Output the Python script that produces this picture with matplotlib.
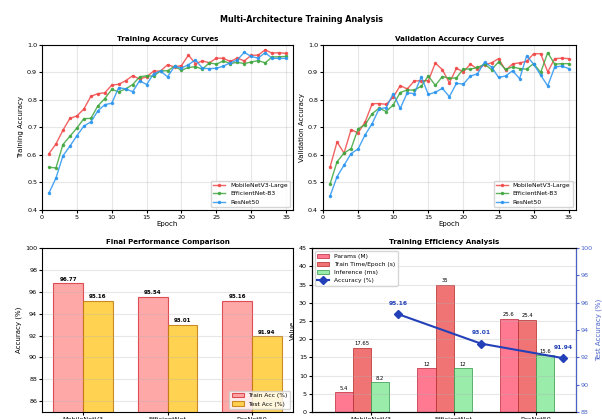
import numpy as np
import matplotlib
matplotlib.use("Agg")
import matplotlib.pyplot as plt

# Data
epochs = np.arange(1, 36)
models = ["MobileNetV3-Large", "EfficientNet-B3", "ResNet50"]
short_names = ["MobileNetV3", "EfficientNet", "ResNet50"]

train_mobilenet = [0.605, 0.640, 0.690, 0.733, 0.742, 0.767, 0.813, 0.823, 0.826, 0.854,
                   0.857, 0.870, 0.888, 0.876, 0.884, 0.905, 0.905, 0.928, 0.920, 0.925,
                   0.963, 0.932, 0.942, 0.935, 0.952, 0.951, 0.940, 0.952, 0.942, 0.962,
                   0.963, 0.982, 0.970, 0.972, 0.969]
train_efficientnet = [0.555, 0.553, 0.638, 0.668, 0.698, 0.732, 0.733, 0.778, 0.805, 0.838,
                      0.830, 0.840, 0.856, 0.884, 0.888, 0.886, 0.906, 0.906, 0.922, 0.908,
                      0.918, 0.921, 0.912, 0.935, 0.930, 0.942, 0.932, 0.937, 0.932, 0.938,
                      0.943, 0.935, 0.956, 0.957, 0.958]
train_resnet = [0.462, 0.516, 0.597, 0.632, 0.670, 0.705, 0.720, 0.760, 0.783, 0.788,
                0.845, 0.840, 0.830, 0.870, 0.856, 0.895, 0.905, 0.884, 0.922, 0.916,
                0.928, 0.946, 0.915, 0.914, 0.915, 0.923, 0.935, 0.945, 0.973, 0.958,
                0.952, 0.972, 0.951, 0.951, 0.951]

val_mobilenet = [0.555, 0.647, 0.607, 0.692, 0.680, 0.720, 0.786, 0.787, 0.784, 0.810,
                 0.852, 0.840, 0.869, 0.870, 0.870, 0.934, 0.910, 0.862, 0.915, 0.902,
                 0.930, 0.912, 0.928, 0.935, 0.950, 0.908, 0.931, 0.935, 0.940, 0.968,
                 0.968, 0.902, 0.950, 0.952, 0.950]
val_efficientnet = [0.494, 0.575, 0.607, 0.623, 0.695, 0.710, 0.750, 0.770, 0.758, 0.782,
                    0.827, 0.836, 0.836, 0.850, 0.887, 0.853, 0.885, 0.879, 0.880, 0.913,
                    0.912, 0.918, 0.930, 0.910, 0.938, 0.911, 0.920, 0.914, 0.912, 0.932,
                    0.900, 0.972, 0.930, 0.932, 0.932]
val_resnet = [0.450, 0.521, 0.563, 0.605, 0.622, 0.673, 0.714, 0.768, 0.772, 0.823,
              0.769, 0.826, 0.823, 0.884, 0.820, 0.828, 0.842, 0.812, 0.860, 0.858,
              0.887, 0.895, 0.937, 0.920, 0.882, 0.887, 0.906, 0.877, 0.960, 0.930,
              0.890, 0.851, 0.920, 0.923, 0.914]

train_acc_pct = [96.77, 95.54, 95.16]
test_acc_pct = [95.16, 93.01, 91.94]

params_m = [5.4, 12, 25.6]
train_time_s = [17.65, 35, 25.4]
inference_ms = [8.2, 12, 15.6]

line_colors = ["#f04848", "#3fa63f", "#2b95ef"]

fig = plt.figure(figsize=(6.02, 4.19), dpi=100)
fig.suptitle("Multi-Architecture Training Analysis", fontsize=5.8, fontweight="bold", y=0.965)

ax1 = fig.add_axes([0.0698, 0.4988, 0.417, 0.394])
ax2 = fig.add_axes([0.5365, 0.4988, 0.420, 0.394])
ax3 = fig.add_axes([0.0698, 0.0167, 0.417, 0.391])
ax4 = fig.add_axes([0.518, 0.0167, 0.4385, 0.391])

tick_fs = 4.6
label_fs = 5
title_fs = 5.1

# Training / validation curves
for ax, series, title, ylabel in [
    (ax1, [train_mobilenet, train_efficientnet, train_resnet], "Training Accuracy Curves", "Training Accuracy"),
    (ax2, [val_mobilenet, val_efficientnet, val_resnet], "Validation Accuracy Curves", "Validation Accuracy"),
]:
    for vals, name, c in zip(series, models, line_colors):
        ax.plot(epochs, vals, color=c, lw=1.0, marker="o", markersize=1.5, alpha=0.85, label=name)
    ax.set_title(title, fontsize=title_fs, fontweight="bold", pad=3)
    ax.set_xlabel("Epoch", fontsize=label_fs, labelpad=1)
    ax.set_ylabel(ylabel, fontsize=label_fs, labelpad=2)
    ax.set_xlim(0, 36)
    ax.set_ylim(0.4, 1.0)
    ax.grid(True, alpha=0.3)
    ax.tick_params(labelsize=tick_fs, length=2, pad=1.5)
    ax.legend(loc="lower right", fontsize=4.3)

# Final performance comparison
x = np.arange(len(short_names))
w = 0.35
b1 = ax3.bar(x - w / 2, train_acc_pct, w, color="#ff9999", edgecolor="#d9363e", lw=0.8,
             alpha=0.85, label="Train Acc (%)")
b2 = ax3.bar(x + w / 2, test_acc_pct, w, color="#ffcc33", edgecolor="#c07a10", lw=0.8,
             alpha=0.85, label="Test Acc (%)")
for bars in (b1, b2):
    for b in bars:
        ax3.text(b.get_x() + b.get_width() / 2, b.get_height() + 0.15, f"{b.get_height():.2f}",
                 ha="center", va="bottom", fontsize=4, fontweight="bold")
ax3.set_title("Final Performance Comparison", fontsize=title_fs, fontweight="bold", pad=3)
ax3.set_ylabel("Accuracy (%)", fontsize=label_fs, labelpad=2)
ax3.set_ylim(85, 100)
ax3.set_xticks(x)
ax3.set_xticklabels(short_names)
ax3.grid(True, axis="y", alpha=0.3)
ax3.tick_params(labelsize=tick_fs, length=2, pad=1.5)
ax3.legend(loc="lower right", fontsize=4.3)

# Training efficiency
w2 = 0.22
p1 = ax4.bar(x - 1.5 * w2, params_m, w2, color="#ff6b85", edgecolor="#c0303f", lw=0.6,
             alpha=0.9, label="Params (M)")
p2 = ax4.bar(x - 0.5 * w2, train_time_s, w2, color="#f06565", edgecolor="#b83030", lw=0.6,
             alpha=0.9, label="Train Time/Epoch (s)")
p3 = ax4.bar(x + 0.5 * w2, inference_ms, w2, color="#8eeaa0", edgecolor="#3a9a50", lw=0.6,
             alpha=0.9, label="Inference (ms)")
for bars in (p1, p2, p3):
    for b in bars:
        ax4.text(b.get_x() + b.get_width() / 2, b.get_height() + 0.4, f"{b.get_height():g}",
                 ha="center", va="bottom", fontsize=3.8)
ax4.set_title("Training Efficiency Analysis", fontsize=title_fs, fontweight="bold", pad=3)
ax4.set_ylabel("Value", fontsize=label_fs, labelpad=2)
ax4.set_ylim(0, 45)
ax4.set_yticks(np.arange(0, 46, 5))
ax4.set_xticks(x)
ax4.set_xticklabels(short_names)
ax4.set_xlim(-0.72, 2.48)
ax4.grid(True, axis="y", alpha=0.3)
ax4.tick_params(labelsize=tick_fs, length=2, pad=1.5)

acc_blue = "#2340b8"
ax4b = ax4.twinx()
ln, = ax4b.plot(x + 1.5 * w2, test_acc_pct, color=acc_blue, lw=1.5, marker="D", markersize=4,
                label="Accuracy (%)")
for xi, v in zip(x + 1.5 * w2, test_acc_pct):
    ax4b.text(xi, v + 0.6, f"{v:.2f}", ha="center", va="bottom", fontsize=4.3,
              fontweight="bold", color=acc_blue)
ax4b.set_ylim(88, 100)
ax4b.set_ylabel("Test Accuracy (%)", fontsize=label_fs, color="#4a62c8", labelpad=2)
ax4b.tick_params(axis="y", labelsize=tick_fs, colors="#4a62c8", length=2, pad=1.5)
ax4b.spines["right"].set_color("#4a62c8")

h1, l1 = ax4.get_legend_handles_labels()
ax4.legend(h1 + [ln], l1 + ["Accuracy (%)"], loc="upper left", fontsize=4.3)

fig.savefig("out.png", dpi=100)
